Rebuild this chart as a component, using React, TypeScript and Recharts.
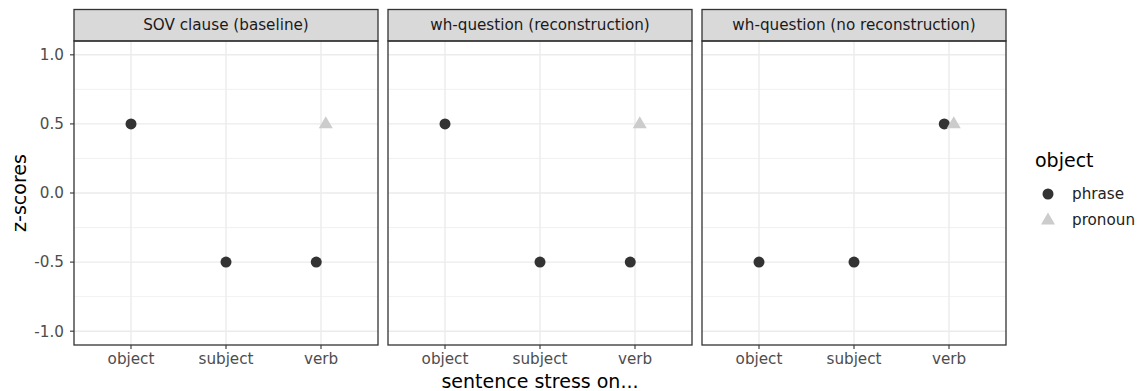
import React from "react";
import { ScatterChart, Scatter, XAxis, YAxis, ReferenceLine } from "recharts";

const categories = ["object", "subject", "verb"];
const facetTitles = [
  "SOV clause (baseline)",
  "wh-question (reconstruction)",
  "wh-question (no reconstruction)",
];
// z-scores per facet, per category (object, subject, verb)
const phraseValues: (number | null)[][] = [
  [0.5, -0.5, -0.5],
  [0.5, -0.5, -0.5],
  [-0.5, -0.5, 0.5],
];
const pronounValues: (number | null)[][] = [
  [null, null, 0.5],
  [null, null, 0.5],
  [null, null, 0.5],
];
const yTicks = [-1, -0.5, 0, 0.5, 1];
const yMinorTicks = [-0.75, -0.25, 0.25, 0.75];
const xTicks = [1, 2, 3];
const legendTitle = "object";
const legendLabels = ["phrase", "pronoun"];
const xTitle = "sentence stress on...";
const yTitle = "z-scores";

const FONT = "DejaVu Sans, sans-serif";
const SMALL = 15.2;
const LARGE = 19;
const PANEL_LEFTS = [74, 388, 702];
const PANEL_W = 304;
const PANEL_TOP = 41;
const PANEL_H = 304;
const STRIP_TOP = 9.5;
const XAXIS_H = 40;
const DODGE = 0.2;
const PHRASE_COLOR = "#333333";
const PRONOUN_COLOR = "#CCCCCC";

function buildSeries(values: (number | null)[][], other: (number | null)[][], facet: number, sign: number) {
  const out: { x: number; y: number }[] = [];
  values[facet].forEach((v, i) => {
    if (v == null) return;
    const both = other[facet][i] != null;
    out.push({ x: i + 1 + (both ? (sign * DODGE) / 4 : 0), y: v });
  });
  return out;
}

const CircleShape = (props: any) => {
  const { cx, cy } = props;
  if (cx == null || cy == null) return null;
  return <circle cx={cx} cy={cy} r={5.5} fill={PHRASE_COLOR} />;
};
const TriangleShape = (props: any) => {
  const { cx, cy } = props;
  if (cx == null || cy == null) return null;
  return (
    <polygon
      points={`${cx},${cy - 7.6} ${cx - 7},${cy + 4.4} ${cx + 7},${cy + 4.4}`}
      fill={PRONOUN_COLOR}
    />
  );
};

function Panel({ facet }: { facet: number }) {
  const first = facet === 0;
  const left = first ? 0 : PANEL_LEFTS[facet];
  const width = first ? PANEL_LEFTS[0] + PANEL_W : PANEL_W;
  const phrase = buildSeries(phraseValues, pronounValues, facet, -1);
  const pronoun = buildSeries(pronounValues, phraseValues, facet, 1);
  const tickStyle = { fill: "#4D4D4D", fontSize: SMALL, fontFamily: FONT };
  return (
    <div style={{ position: "absolute", left, top: PANEL_TOP }}>
      <ScatterChart width={width} height={PANEL_H + XAXIS_H} margin={{ top: 0, right: 0, bottom: 0, left: 0 }}>
        <XAxis
          type="number"
          dataKey="x"
          domain={[0.4, 3.6]}
          ticks={xTicks}
          allowDataOverflow
          tickFormatter={(v: number) => categories[v - 1]}
          axisLine={false}
          tickLine={{ stroke: "#333333", strokeWidth: 1.1 }}
          tickSize={4}
          tickMargin={4}
          tick={tickStyle}
          height={XAXIS_H}
          interval={0}
        />
        <YAxis
          type="number"
          dataKey="y"
          domain={[-1.1, 1.1]}
          ticks={yTicks}
          allowDataOverflow
          hide={!first}
          width={first ? PANEL_LEFTS[0] : 0}
          tickFormatter={(v: number) => v.toFixed(1)}
          axisLine={false}
          tickLine={{ stroke: "#333333", strokeWidth: 1.1 }}
          tickSize={4}
          tickMargin={6}
          tick={tickStyle}
          interval={0}
        />
        {yMinorTicks.map((v) => (
          <ReferenceLine key={`mn${v}`} y={v} stroke="#EBEBEB" strokeWidth={0.7} />
        ))}
        {yTicks.map((v) => (
          <ReferenceLine key={`mj${v}`} y={v} stroke="#EBEBEB" strokeWidth={1.4} />
        ))}
        {xTicks.map((v) => (
          <ReferenceLine key={`vx${v}`} x={v} stroke="#EBEBEB" strokeWidth={1.4} />
        ))}
        <Scatter name={legendLabels[0]} data={phrase} shape={CircleShape} isAnimationActive={false} />
        <Scatter name={legendLabels[1]} data={pronoun} shape={TriangleShape} isAnimationActive={false} />
      </ScatterChart>
    </div>
  );
}

export default function App() {
  return (
    <div style={{ position: "absolute", left: 0, top: 0, width: 1142, height: 391, background: "#fff", fontFamily: FONT }}>
      {facetTitles.map((_, i) => (
        <Panel key={i} facet={i} />
      ))}
      <svg width={1142} height={391} style={{ position: "absolute", left: 0, top: 0, pointerEvents: "none" }}>
        {facetTitles.map((t, i) => (
          <g key={t}>
            <rect x={PANEL_LEFTS[i]} y={STRIP_TOP} width={PANEL_W} height={PANEL_TOP - STRIP_TOP} fill="#D9D9D9" stroke="#333333" strokeWidth={1.3} />
            <text x={PANEL_LEFTS[i] + PANEL_W / 2} y={(STRIP_TOP + PANEL_TOP) / 2} textAnchor="middle" dominantBaseline="central" fontSize={SMALL} fill="#1A1A1A" fontFamily={FONT}>
              {t}
            </text>
            <rect x={PANEL_LEFTS[i]} y={PANEL_TOP} width={PANEL_W} height={PANEL_H} fill="none" stroke="#333333" strokeWidth={1.3} />
          </g>
        ))}
        <text x={540} y={381} textAnchor="middle" dominantBaseline="central" fontSize={LARGE} fill="#000" fontFamily={FONT}>
          {xTitle}
        </text>
        <text x={19} y={193} transform="rotate(-90 19 193)" textAnchor="middle" dominantBaseline="central" fontSize={LARGE} fill="#000" fontFamily={FONT}>
          {yTitle}
        </text>
        <text x={1035} y={160} dominantBaseline="central" fontSize={LARGE} fill="#000" fontFamily={FONT}>
          {legendTitle}
        </text>
        <circle cx={1048} cy={194} r={5.5} fill={PHRASE_COLOR} />
        <polygon points={`1048,${220 - 7.6} 1041,${220 + 4.4} 1055,${220 + 4.4}`} fill={PRONOUN_COLOR} />
        <text x={1072} y={194} dominantBaseline="central" fontSize={SMALL} fill="#222" fontFamily={FONT}>
          {legendLabels[0]}
        </text>
        <text x={1072} y={220} dominantBaseline="central" fontSize={SMALL} fill="#222" fontFamily={FONT}>
          {legendLabels[1]}
        </text>
      </svg>
    </div>
  );
}
